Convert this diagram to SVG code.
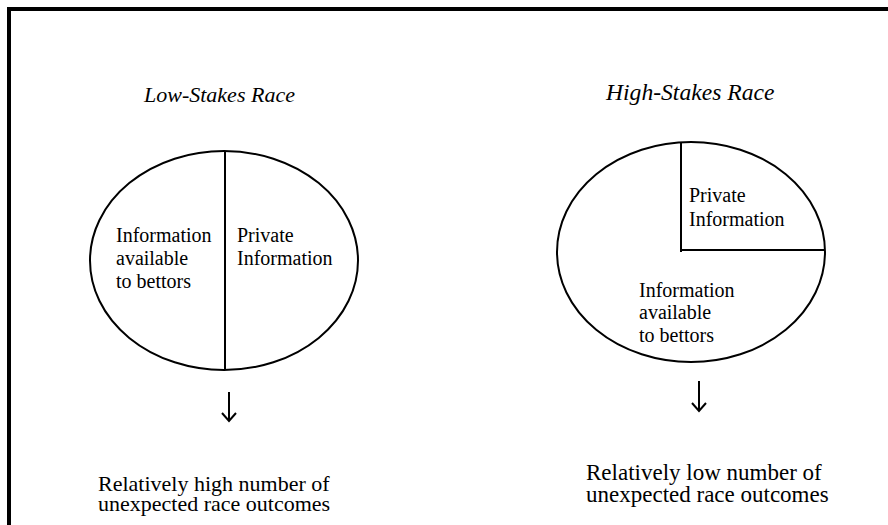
<svg xmlns="http://www.w3.org/2000/svg" width="888" height="525" viewBox="0 0 888 525">
<style>
text{font-family:"Liberation Serif","Times New Roman",serif;fill:#000}
.title{font-style:italic}
.lbl{font-size:20px}
.shape{fill:none;stroke:#000;stroke-width:2}
.div{stroke:#000;stroke-width:2;fill:none}
.arrow{stroke:#000;stroke-width:2;fill:none}
</style>
<rect width="888" height="525" fill="#fff"/>
<path d="M9 525 V9 H888" fill="none" stroke="#000" stroke-width="4"/>
<g id="low-title"><text class="title" font-size="22" x="144" y="102">Low-Stakes Race</text></g>
<g id="high-title"><text class="title" font-size="23.6" x="606" y="100">High-Stakes Race</text></g>
<g id="low-pie">
<ellipse class="shape" cx="224" cy="260.5" rx="134" ry="109.5"/>
<line class="div" x1="225" y1="151" x2="225" y2="370"/>
<text class="lbl" x="116" y="242">Information</text>
<text class="lbl" x="116" y="265">available</text>
<text class="lbl" x="116" y="288">to bettors</text>
<text class="lbl" x="237" y="242">Private</text>
<text class="lbl" x="237" y="265">Information</text>
</g>
<g id="high-pie">
<ellipse class="shape" cx="691" cy="252" rx="134" ry="110"/>
<path class="div" d="M681 142 V252 M681 250 H825"/>
<text class="lbl" x="689" y="202">Private</text>
<text class="lbl" x="689" y="226">Information</text>
<text class="lbl" x="639" y="297">Information</text>
<text class="lbl" x="639" y="319">available</text>
<text class="lbl" x="639" y="342">to bettors</text>
</g>
<g id="connectors">
<path class="arrow" d="M229 392 V421 M222 413 L229 421 L236 413"/>
<path class="arrow" d="M699 381 V411 M692 403 L699 411 L706 403"/>
</g>
<g id="low-outcome">
<text font-size="22" x="98" y="491">Relatively high number of</text>
<text font-size="22" x="98" y="511">unexpected race outcomes</text>
</g>
<g id="high-outcome">
<text font-size="23" x="586" y="480">Relatively low number of</text>
<text font-size="23" x="586" y="502">unexpected race outcomes</text>
</g>
</svg>
